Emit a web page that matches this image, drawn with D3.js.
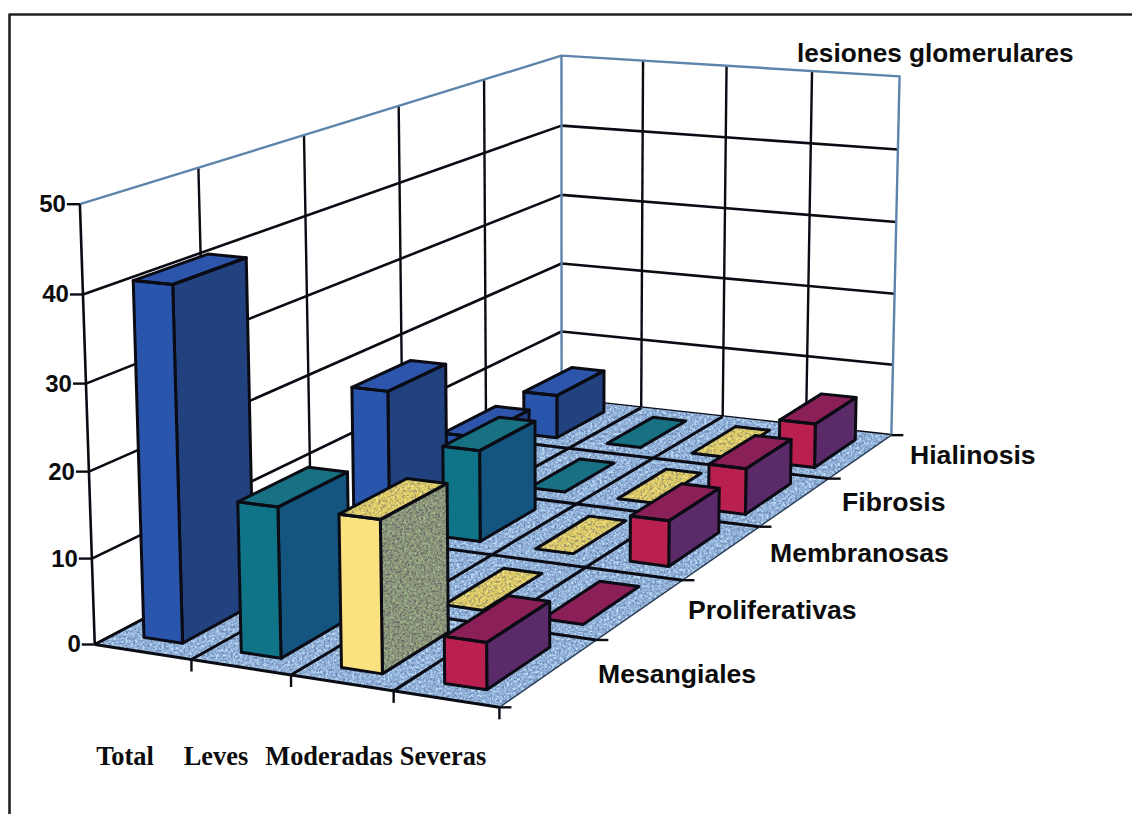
<!DOCTYPE html>
<html>
<head>
<meta charset="utf-8">
<script src="https://cdnjs.cloudflare.com/ajax/libs/d3/7.9.0/d3.min.js"></script>
<style>
html,body{margin:0;padding:0;background:#fff}
svg{display:block}
</style>
</head>
<body>
<svg id="chart" width="1132" height="814"></svg>
<script>
// Lesion types along the depth axis, front to back
const rowLabels = ["Mesangiales", "Proliferativas", "Membranosas", "Fibrosis", "Hialinosis"];
// Severity groups along the horizontal axis
const colLabels = ["Total", "Leves", "Moderadas", "Severas"];
const valueTicks = [0, 10, 20, 30, 40, 50];

// Values per severity group, one entry per lesion type (front to back)
const total     = [41, 0, 17.8, 6, 6];
const leves     = [17.3, 0, 11.6, 0, 0];
const moderadas = [17.4, 0, 0, 0, 0];
const severas   = [5.3, 0, 5.7, 6, 6];

const seriesValues = [total, leves, moderadas, severas];

const palette = [
  {front:"#2a55ad", side:"#21417f", top:"#2c55ab"},
  {front:"#0f7488", side:"#14557f", top:"#177182"},
  {front:"#fbe180", side:"#8b9478", top:"#dcc964", grain:true},
  {front:"#b9204f", side:"#5b2a69", top:"#8b1f57"}
];

// Box corners in screen space used to calibrate the perspective camera:
// [column axis 0-1, depth axis 0-1, height axis 0-1] -> [px, py]
const cameraAnchors = [
  [[0,0,0],[96,645]], [[1,0,0],[498,708]], [[1,1,0],[892,433]], [[0,1,0],[561,400]],
  [[0,0,1],[80,203]], [[0,1,1],[561,55]],  [[1,1,1],[900,78]]
];

// Solve the 3x4 projection by least squares (normal equations + elimination)
function solveCamera(anchors){
  const A=[], b=[];
  anchors.forEach(([[x,y,z],[u,v]])=>{
    A.push([x,y,z,1,0,0,0,0,-u*x,-u*y,-u*z]); b.push(u);
    A.push([0,0,0,0,x,y,z,1,-v*x,-v*y,-v*z]); b.push(v);
  });
  const n=11, M=[];
  for(let i=0;i<n;i++){
    M[i]=[];
    for(let j=0;j<n;j++) M[i][j]=d3.sum(A,r=>r[i]*r[j]);
    M[i][n]=d3.sum(A,(r,k)=>r[i]*b[k]);
  }
  for(let i=0;i<n;i++){
    let p=i;
    for(let r=i+1;r<n;r++) if(Math.abs(M[r][i])>Math.abs(M[p][i])) p=r;
    [M[i],M[p]]=[M[p],M[i]];
    for(let r=0;r<n;r++){
      if(r===i) continue;
      const f=M[r][i]/M[i][i];
      for(let c=i;c<=n;c++) M[r][c]-=f*M[i][c];
    }
  }
  return M.map((row,i)=>row[n]/row[i]);
}
const cam = solveCamera(cameraAnchors);
function project(x,y,z){
  const w = cam[8]*x+cam[9]*y+cam[10]*z+1;
  return [(cam[0]*x+cam[1]*y+cam[2]*z+cam[3])/w,(cam[4]*x+cam[5]*y+cam[6]*z+cam[7])/w];
}

// Data -> unit-cube scales
const colScale = d3.scaleBand().domain(colLabels).range([0,1]).paddingInner(0.6).paddingOuter(0.29);
const rowScale = d3.scaleBand().domain(rowLabels).range([0,1]).paddingInner(0.36).paddingOuter(0.18);
const colEdge = d3.scaleLinear().domain([0,colLabels.length]).range([0,1]);
const rowEdge = d3.scaleLinear().domain([0,rowLabels.length]).range([0,1]);
const height = d3.scaleLinear().domain([0,50]).range([0,1]);

const svg = d3.select("#chart");
const line = d3.line();
const poly = pts => line(pts.map(p=>project(...p)))+"Z";

// Two-tone speckle: pale flecks and dark flecks laid over the fill colour
const defs = svg.append("defs");
function grainFilter(id, seed, pale, dark){
  const f = defs.append("filter").attr("id",id).attr("x","0").attr("y","0").attr("width","1").attr("height","1")
    .attr("color-interpolation-filters","sRGB");
  f.append("feTurbulence").attr("type","fractalNoise").attr("baseFrequency",0.42).attr("numOctaves",2).attr("seed",seed).attr("result","n");
  f.append("feColorMatrix").attr("in","n").attr("type","matrix")
    .attr("values",`0 0 0 0 ${pale[0]}  0 0 0 0 ${pale[1]}  0 0 0 0 ${pale[2]}  5 0 0 0 -2.35`).attr("result","pc");
  f.append("feColorMatrix").attr("in","n").attr("type","matrix")
    .attr("values",`0 0 0 0 ${dark[0]}  0 0 0 0 ${dark[1]}  0 0 0 0 ${dark[2]}  0 5 0 0 -2.5`).attr("result","dc");
  const m = f.append("feMerge").attr("result","flecks");
  m.append("feMergeNode").attr("in","pc");
  m.append("feMergeNode").attr("in","dc");
  f.append("feComposite").attr("in","flecks").attr("in2","SourceGraphic").attr("operator","in").attr("result","g");
  f.append("feGaussianBlur").attr("in","g").attr("stdDeviation",0.45).attr("result","soft");
  f.append("feComposite").attr("in","soft").attr("in2","SourceGraphic").attr("operator","in").attr("result","clip");
  const o = f.append("feMerge");
  o.append("feMergeNode").attr("in","SourceGraphic");
  o.append("feMergeNode").attr("in","clip");
}
grainFilter("floorGrain",4,[0.74,0.86,0.96],[0.45,0.55,0.72]);
grainFilter("sideGrain",9,[0.62,0.72,0.55],[0.42,0.42,0.42]);
grainFilter("topGrain",12,[0.95,0.88,0.5],[0.62,0.6,0.42]);

const ink = "#0b0b14", wallBlue = "#5d84ab";
const g = svg.append("g").attr("stroke-linejoin","round");

// Sheet border: only the top and left edges are drawn
g.append("path").attr("d",line([[9.5,814],[9.5,14.5],[1132,14.5]]))
  .attr("fill","none").attr("stroke","#222").attr("stroke-width",2.6);

// Wall grid: horizontal value lines on both walls
const vLines = valueTicks.slice(1,-1).concat([0]);
vLines.forEach(t=>{
  const z=height(t);
  g.append("path").attr("d",line([project(0,0,z),project(0,1,z),project(1,1,z)]))
    .attr("fill","none").attr("stroke",ink).attr("stroke-width",2.6);
});
// Wall grid: verticals at every category boundary
d3.range(1,rowLabels.length).forEach(i=>{
  const y=rowEdge(i);
  g.append("path").attr("d",line([project(0,y,0),project(0,y,1)]))
    .attr("fill","none").attr("stroke",ink).attr("stroke-width",2.4);
});
d3.range(1,colLabels.length).forEach(i=>{
  const x=colEdge(i);
  g.append("path").attr("d",line([project(x,1,0),project(x,1,1)]))
    .attr("fill","none").attr("stroke",ink).attr("stroke-width",2.4);
});
// Blue outline of the walls
g.append("path").attr("d",line([project(0,0,1),project(0,1,1),project(1,1,1),project(1,1,0)]))
  .attr("fill","none").attr("stroke",wallBlue).attr("stroke-width",2.4);
g.append("path").attr("d",line([project(0,1,0),project(0,1,1)]))
  .attr("fill","none").attr("stroke",wallBlue).attr("stroke-width",2.4);
g.append("path").attr("d",line([project(0,0,0),project(0,0,1)]))
  .attr("fill","none").attr("stroke",ink).attr("stroke-width",2.6);

// Floor
g.append("path").attr("d",poly([[0,0,0],[1,0,0],[1,1,0],[0,1,0]]))
  .attr("fill","#8eb0d8").attr("filter","url(#floorGrain)");
d3.range(0,colLabels.length+1).forEach(i=>{
  const x=colEdge(i);
  g.append("path").attr("d",line([project(x,0,0),project(x,1,0)]))
    .attr("fill","none").attr("stroke",i===colLabels.length?"#2b3c55":ink).attr("stroke-width",i===colLabels.length?1.4:3);
});
d3.range(0,rowLabels.length).forEach(i=>{
  const y=rowEdge(i);
  g.append("path").attr("d",line([project(0,y,0),project(1,y,0)]))
    .attr("fill","none").attr("stroke",ink).attr("stroke-width",3);
});

// Bars, painted from the back row forward and left to right
const order = [];
d3.range(rowLabels.length-1,-1,-1).forEach(r=>{
  colLabels.forEach((c,ci)=>order.push({r,ci,c,v:seriesValues[ci][r]}));
});
order.forEach(d=>{
  const x0=colScale(d.c), x1=x0+colScale.bandwidth();
  const y0=rowScale(rowLabels[d.r]), y1=y0+rowScale.bandwidth();
  const z=height(d.v), col=palette[d.ci];
  const bar=g.append("g").attr("stroke",ink).attr("stroke-width",3);
  const topFace=[[x0,y0,z],[x1,y0,z],[x1,y1,z],[x0,y1,z]];
  const topFill=bar.append("path").attr("d",poly(topFace)).attr("fill",col.top).attr("stroke","none");
  if(col.grain) topFill.attr("filter","url(#topGrain)");
  if(d.v>0){
    const side=bar.append("path").attr("d",poly([[x1,y0,0],[x1,y1,0],[x1,y1,z],[x1,y0,z]])).attr("fill",col.side).attr("stroke","none");
    if(col.grain) side.attr("filter","url(#sideGrain)");
    bar.append("path").attr("d",poly([[x1,y0,0],[x1,y1,0],[x1,y1,z],[x1,y0,z]])).attr("fill","none");
    bar.append("path").attr("d",poly([[x0,y0,0],[x1,y0,0],[x1,y0,z],[x0,y0,z]])).attr("fill",col.front);
  }
  bar.append("path").attr("d",poly(topFace)).attr("fill","none");
});

// Value axis ticks and labels
const axisFont = "'Liberation Sans', Arial, sans-serif";
valueTicks.forEach(t=>{
  const p=project(0,0,height(t));
  g.append("line").attr("x1",p[0]-13).attr("x2",p[0]).attr("y1",p[1]).attr("y2",p[1])
    .attr("stroke",ink).attr("stroke-width",2.4);
  g.append("text").attr("x",p[0]-14).attr("y",p[1]+8).attr("text-anchor","end")
    .attr("font-family",axisFont).attr("font-weight",700).attr("font-size",24).attr("fill","#0c0c0c").text(t);
});
// Category ticks on the front edge
d3.range(1,colLabels.length+1).forEach(i=>{
  const p=project(colEdge(i),0,0);
  g.append("line").attr("x1",p[0]).attr("x2",p[0]).attr("y1",p[1]).attr("y2",p[1]+12)
    .attr("stroke",ink).attr("stroke-width",2.4);
});
// Depth ticks on the right edge
d3.range(0,rowLabels.length+1).forEach(i=>{
  const p=project(1,rowEdge(i),0);
  g.append("line").attr("x1",p[0]).attr("x2",p[0]+12).attr("y1",p[1]).attr("y2",p[1])
    .attr("stroke",ink).attr("stroke-width",2.4);
});

// Category labels: severity in a serif face, lesion types in a sans face
const colLabelX = [125, 216, 329, 443];
colLabels.forEach((c,i)=>{
  g.append("text").attr("x",colLabelX[i]).attr("y",765).attr("text-anchor","middle")
    .attr("font-family","'Liberation Serif', 'Times New Roman', serif").attr("font-weight",700)
    .attr("font-size",26.4).attr("fill","#0c0c0c").text(c);
});
const rowLabelX = [598, 688, 770, 842, 910], rowLabelY = [683, 619, 562, 511, 464];
rowLabels.forEach((c,i)=>{
  g.append("text").attr("x",rowLabelX[i]).attr("y",rowLabelY[i])
    .attr("font-family",axisFont).attr("font-weight",700).attr("font-size",26.6).attr("fill","#0c0c0c").text(c);
});
g.append("text").attr("x",797).attr("y",62)
  .attr("font-family",axisFont).attr("font-weight",700).attr("font-size",26.2).attr("fill","#0c0c0c").text("lesiones glomerulares");
</script>
</body>
</html>
